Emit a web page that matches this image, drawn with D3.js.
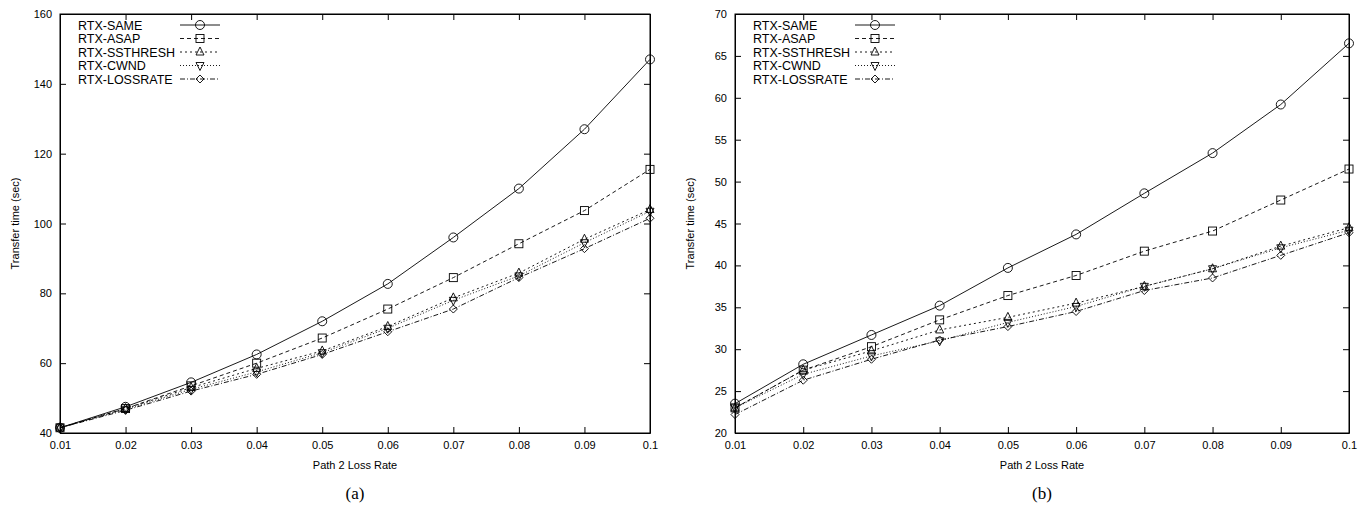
<!DOCTYPE html>
<html>
<head>
<meta charset="utf-8">
<script src="https://cdn.jsdelivr.net/npm/d3@7"></script>
<style>
  body { margin: 0; background: #fff; }
  text { font-family: "Liberation Sans", Arial, sans-serif; font-size: 11px; fill: #000; }
  .leg { font-size: 12.5px; }
  .cap { font-family: "Liberation Serif", serif; font-size: 17px; }
</style>
</head>
<body>
<svg id="chart" width="1366" height="512"></svg>
<script>
  var lossRates = [0.01, 0.02, 0.03, 0.04, 0.05, 0.06, 0.07, 0.08, 0.09, 0.1];
  var seriesNames = ['RTX-SAME', 'RTX-ASAP', 'RTX-SSTHRESH', 'RTX-CWND', 'RTX-LOSSRATE'];
  var xTicks = [0.01, 0.02, 0.03, 0.04, 0.05, 0.06, 0.07, 0.08, 0.09, 0.1];
  var xTickLabels = ['0.01', '0.02', '0.03', '0.04', '0.05', '0.06', '0.07', '0.08', '0.09', '0.1'];

  // (a)
  var aSame     = [41.5, 47.5, 54.5, 62.5, 72.0, 82.7, 96.0, 110.0, 127.0, 147.0];
  var aAsap     = [41.5, 47.0, 53.5, 60.0, 67.2, 75.5, 84.5, 94.2, 103.7, 115.5];
  var aSsthresh = [41.5, 47.0, 53.0, 58.5, 63.5, 70.5, 78.7, 85.8, 95.5, 104.0];
  var aCwnd     = [41.5, 46.8, 52.5, 57.5, 63.0, 70.0, 78.0, 85.0, 94.5, 103.5];
  var aLossrate = [41.5, 46.5, 52.0, 56.8, 62.5, 69.0, 75.5, 84.5, 92.8, 101.5];
  var aYTicks = [40, 60, 80, 100, 120, 140, 160];

  // (b)
  var bSame     = [23.5, 28.2, 31.7, 35.2, 39.7, 43.7, 48.6, 53.4, 59.2, 66.5];
  var bAsap     = [23.0, 27.5, 30.3, 33.5, 36.4, 38.8, 41.7, 44.1, 47.8, 51.5];
  var bSsthresh = [23.0, 27.5, 29.8, 32.3, 33.8, 35.5, 37.5, 39.6, 42.3, 44.5];
  var bCwnd     = [23.0, 27.0, 29.2, 31.0, 33.2, 35.1, 37.5, 39.6, 42.1, 44.2];
  var bLossrate = [22.2, 26.3, 28.8, 31.1, 32.7, 34.5, 37.0, 38.5, 41.2, 43.9];
  var bYTicks = [20, 25, 30, 35, 40, 45, 50, 55, 60, 65, 70];

  var dashes = [null, '4,3', '2,3', '1,2', '5,2,1,2'];
  var svg = d3.select('#chart');

  function symbol(g, i, x, y) {
    var s = 4;
    if (i == 0) g.append('circle').attr('cx', x).attr('cy', y).attr('r', s + 0.5);
    else if (i == 1) g.append('rect').attr('x', x - s).attr('y', y - s).attr('width', 2 * s).attr('height', 2 * s);
    else if (i == 2) g.append('path').attr('d', 'M' + x + ',' + (y - s - 1) + 'L' + (x + s) + ',' + (y + s - 1) + 'L' + (x - s) + ',' + (y + s - 1) + 'Z');
    else if (i == 3) g.append('path').attr('d', 'M' + x + ',' + (y + s + 1) + 'L' + (x + s) + ',' + (y - s + 1) + 'L' + (x - s) + ',' + (y - s + 1) + 'Z');
    else g.append('path').attr('d', 'M' + x + ',' + (y - s) + 'L' + (x + s) + ',' + y + 'L' + x + ',' + (y + s) + 'L' + (x - s) + ',' + y + 'Z');
  }

  function drawPanel(left, right, yDomain, yTicks, data, caption) {
    var top = 14, bottom = 433;
    var x = d3.scaleLinear().domain([0.01, 0.1]).range([left, right]);
    var y = d3.scaleLinear().domain(yDomain).range([bottom, top]);
    var g = svg.append('g');

    g.append('g').attr('transform', 'translate(0,' + bottom + ')')
      .call(d3.axisBottom(x).tickValues(xTicks).tickFormat(function(d, i) { return xTickLabels[i]; }).tickSizeInner(-6).tickSizeOuter(0).tickPadding(8));
    g.append('g').attr('transform', 'translate(0,' + top + ')')
      .call(d3.axisTop(x).tickValues(xTicks).tickFormat('').tickSizeInner(-6).tickSizeOuter(0));
    g.append('g').attr('transform', 'translate(' + left + ',0)')
      .call(d3.axisLeft(y).tickValues(yTicks).tickSizeInner(-6).tickSizeOuter(0).tickPadding(8));
    g.append('g').attr('transform', 'translate(' + right + ',0)')
      .call(d3.axisRight(y).tickValues(yTicks).tickFormat('').tickSizeInner(-6).tickSizeOuter(0));
    g.selectAll('.domain').attr('stroke', '#000');
    g.selectAll('.tick text').style('font-family', '"Liberation Sans", Arial, sans-serif').style('font-size', '11px');
    g.append('rect').attr('x', left).attr('y', top).attr('width', right - left).attr('height', bottom - top)
      .attr('fill', 'none').attr('stroke', '#000');

    var line = d3.line().x(function(d, i) { return x(lossRates[i]); }).y(function(d) { return y(d); });
    data.forEach(function(vals, i) {
      g.append('path').datum(vals).attr('d', line).attr('fill', 'none').attr('stroke', '#000')
        .attr('stroke-width', 0.9).attr('stroke-dasharray', dashes[i]);
      var sg = g.append('g').attr('fill', 'none').attr('stroke', '#000').attr('stroke-width', 0.9);
      vals.forEach(function(v, j) { symbol(sg, i, x(lossRates[j]), y(v)); });
    });

    // legend
    seriesNames.forEach(function(n, i) {
      var ly = 25 + i * 13.5;
      g.append('text').attr('class', 'leg').attr('x', left + 18).attr('y', ly + 4.5).text(n);
      g.append('line').attr('x1', left + 120).attr('x2', left + 160).attr('y1', ly).attr('y2', ly)
        .attr('stroke', '#000').attr('stroke-width', 0.9).attr('stroke-dasharray', dashes[i]);
      var sg = g.append('g').attr('fill', 'none').attr('stroke', '#000').attr('stroke-width', 0.9);
      symbol(sg, i, left + 140, ly);
    });

    g.append('text').attr('transform', 'translate(' + (left - 41) + ',' + ((top + bottom) / 2) + ') rotate(-90)')
      .attr('text-anchor', 'middle').text('Transfer time (sec)');
    g.append('text').attr('x', (left + right) / 2).attr('y', 469).attr('text-anchor', 'middle').text('Path 2 Loss Rate');
    g.append('text').attr('class', 'cap').attr('x', (left + right) / 2).attr('y', 499).attr('text-anchor', 'middle').text(caption);
  }

  drawPanel(60, 650, [40, 160], aYTicks, [aSame, aAsap, aSsthresh, aCwnd, aLossrate], '(a)');
  drawPanel(735, 1349, [20, 70], bYTicks, [bSame, bAsap, bSsthresh, bCwnd, bLossrate], '(b)');
</script>
</body>
</html>
